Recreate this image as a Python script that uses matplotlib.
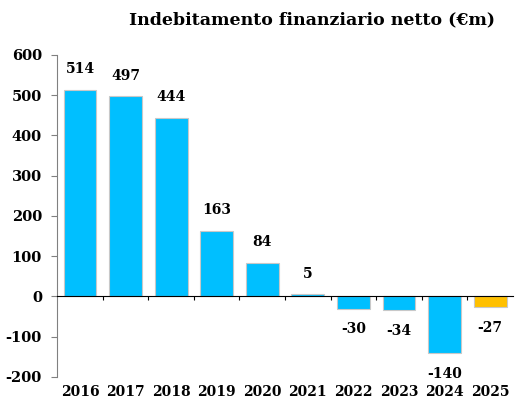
import matplotlib
matplotlib.use("Agg")
import matplotlib.pyplot as plt

years = ["2016", "2017", "2018", "2019", "2020", "2021", "2022", "2023", "2024", "2025"]
values = [514, 497, 444, 163, 84, 5, -30, -34, -140, -27]
colors = ["#00BFFF"] * 9 + ["#FFC000"]
yticks = [600, 500, 400, 300, 200, 100, 0, -100, -200]
title = "Indebitamento finanziario netto (€m)"

plt.rcParams['font.family'] = ['DejaVu Serif']
plt.rcParams['font.weight'] = 'bold'
plt.rcParams['axes.unicode_minus'] = False

fig = plt.figure(figsize=(5.15, 4.01), dpi=100)
ax = fig.add_axes([0.111, 0.06, 0.885, 0.803])
x = list(range(len(years)))
ax.bar(x, values, width=0.72, color=colors, edgecolor="#C8C8C8", linewidth=0.8, zorder=2)

ax.set_xlim(-0.5, len(years) - 0.5)
ax.set_ylim(-200, 600)
ax.set_yticks(yticks)
ax.set_yticklabels([str(v) for v in yticks], fontsize=10.5, fontweight='bold')
ax.tick_params(axis='y', length=4, color='#808080', pad=7)

for s in ['top', 'right']:
    ax.spines[s].set_visible(False)
ax.spines['left'].set_color('#808080')
ax.spines['bottom'].set_position(('data', 0))
ax.spines['bottom'].set_color('black')
ax.set_xticks([i + 0.5 for i in x[:-1]])
ax.set_xticklabels([])
ax.tick_params(axis='x', length=3, direction='out', color='black')

sec = ax.secondary_xaxis('bottom')
sec.spines['bottom'].set_visible(False)
sec.set_xticks(x)
sec.set_xticklabels(years, fontsize=10, fontweight='bold')
sec.tick_params(length=0, pad=6)

for xi, v in zip(x, values):
    if v >= 0:
        ax.annotate(str(v), (xi, v), xytext=(0, 10), textcoords='offset points',
                    ha='center', va='bottom', fontsize=10, fontweight='bold')
    else:
        ax.annotate(str(v), (xi, v), xytext=(0, -10), textcoords='offset points',
                    ha='center', va='top', fontsize=10, fontweight='bold')

fig.text(0.605, 0.95, title, ha='center', va='center', fontsize=12.5, fontweight='bold')

fig.savefig("out.png", dpi=100)
